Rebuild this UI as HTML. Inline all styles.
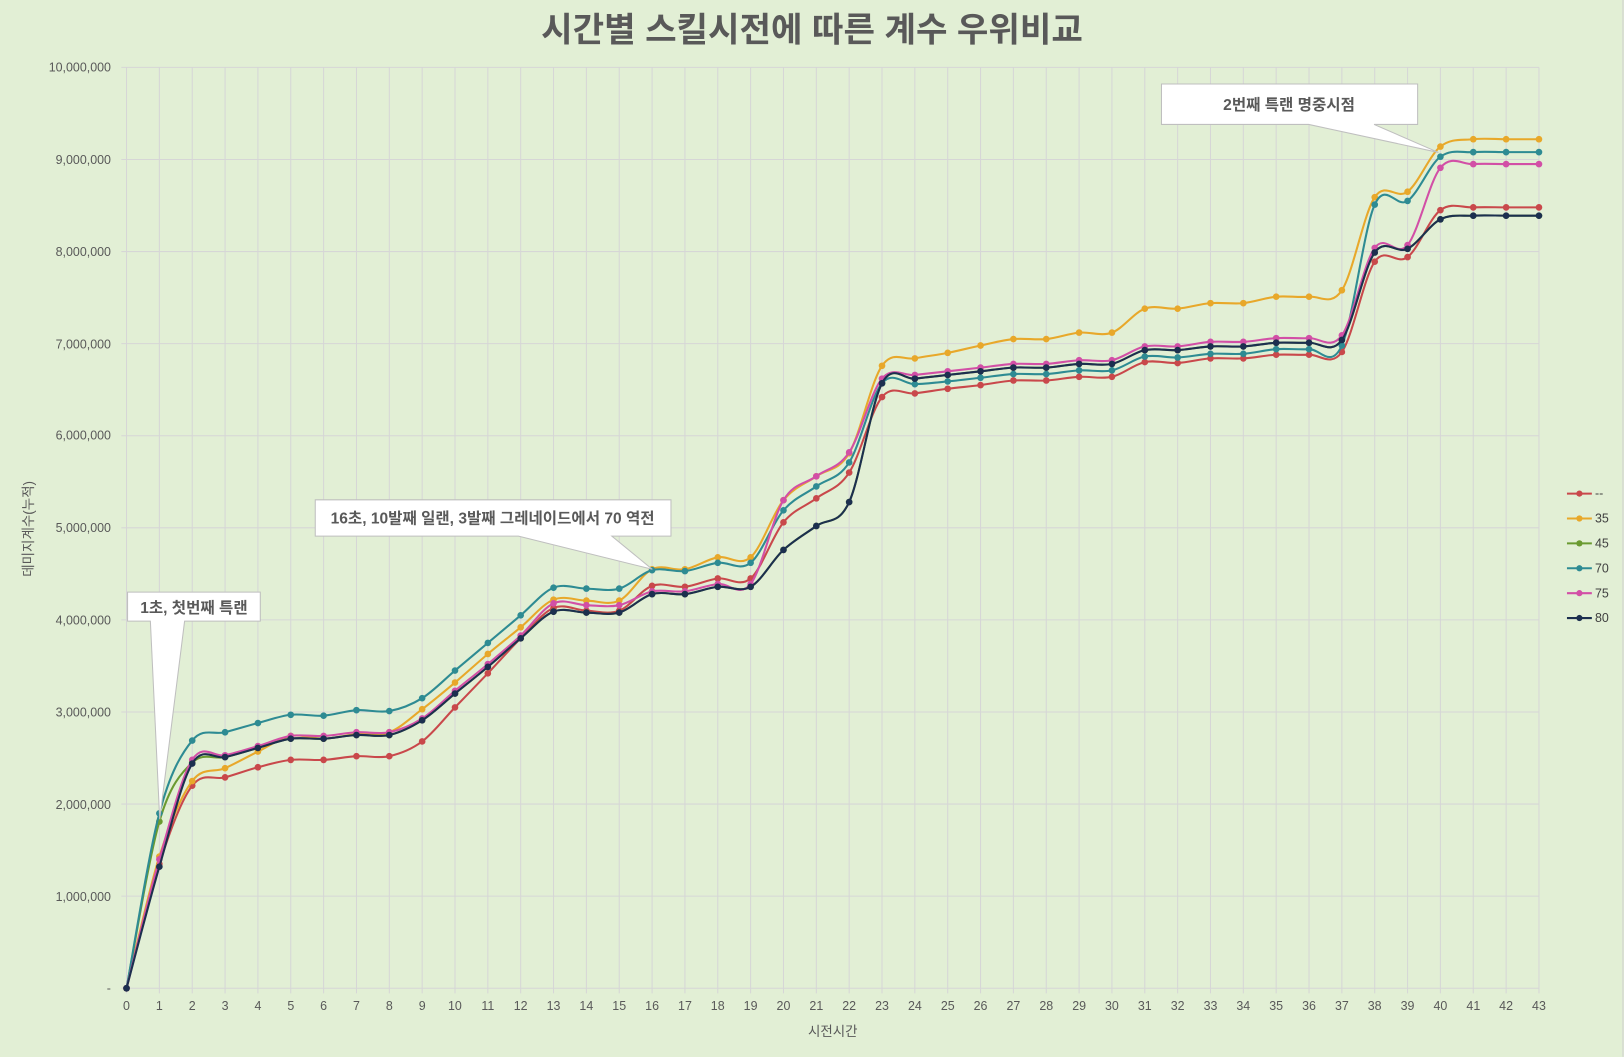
<!DOCTYPE html>
<html><head><meta charset="utf-8"><style>
html,body{margin:0;padding:0;background:#e2efd5;}
svg{display:block;font-family:"Liberation Sans","Noto Sans CJK KR",sans-serif;}
</style></head><body>
<svg id="c" width="1624" height="1057" viewBox="0 0 1566 1019.3" preserveAspectRatio="none" xmlns="http://www.w3.org/2000/svg">
<rect x="0" y="0" width="1566" height="1020" fill="#e2efd5"/>
<g id="grid" stroke="#d6d6d6" stroke-width="1"></g>
<text x="783" y="40" text-anchor="middle" font-size="33" font-weight="bold" fill="#595959">시간별 스킬시전에 따른 계수 우위비교</text>
<g font-size="12" fill="#595959" text-anchor="end">
<text x="107" y="69">10,000,000</text><text x="107" y="158">9,000,000</text><text x="107" y="247">8,000,000</text><text x="107" y="336">7,000,000</text><text x="107" y="424">6,000,000</text><text x="107" y="513">5,000,000</text><text x="107" y="602">4,000,000</text><text x="107" y="691">3,000,000</text><text x="107" y="780">2,000,000</text><text x="107" y="869">1,000,000</text><text x="107" y="957">-</text>
</g>
<g font-size="12" fill="#595959" text-anchor="middle">
<text x="122.0" y="974">0</text><text x="153.7" y="974">1</text><text x="185.3" y="974">2</text><text x="217.0" y="974">3</text><text x="248.7" y="974">4</text><text x="280.4" y="974">5</text><text x="312.0" y="974">6</text><text x="343.7" y="974">7</text><text x="375.4" y="974">8</text><text x="407.1" y="974">9</text><text x="438.7" y="974">10</text><text x="470.4" y="974">11</text><text x="502.1" y="974">12</text><text x="533.8" y="974">13</text><text x="565.4" y="974">14</text><text x="597.1" y="974">15</text><text x="628.8" y="974">16</text><text x="660.5" y="974">17</text><text x="692.1" y="974">18</text><text x="723.8" y="974">19</text><text x="755.5" y="974">20</text><text x="787.2" y="974">21</text><text x="818.8" y="974">22</text><text x="850.5" y="974">23</text><text x="882.2" y="974">24</text><text x="913.9" y="974">25</text><text x="945.5" y="974">26</text><text x="977.2" y="974">27</text><text x="1008.9" y="974">28</text><text x="1040.6" y="974">29</text><text x="1072.2" y="974">30</text><text x="1103.9" y="974">31</text><text x="1135.6" y="974">32</text><text x="1167.3" y="974">33</text><text x="1198.9" y="974">34</text><text x="1230.6" y="974">35</text><text x="1262.3" y="974">36</text><text x="1294.0" y="974">37</text><text x="1325.6" y="974">38</text><text x="1357.3" y="974">39</text><text x="1389.0" y="974">40</text><text x="1420.7" y="974">41</text><text x="1452.3" y="974">42</text><text x="1484.0" y="974">43</text>
</g>
<text x="803" y="999" text-anchor="middle" font-size="13" fill="#595959">시전시간</text>
<text transform="translate(32,510) rotate(-90)" text-anchor="middle" font-size="13" fill="#595959">데미지계수(누적)</text>
<g id="series"></g>
<g stroke="#bfbfbf" stroke-width="1" fill="#fff">
<path d="M123,571 H251 V599 H178 L154,790 L145,599 H123 Z"/>
<path d="M304,482 H647 V517 H590 L629,549 L500,517 H304 Z"/>
<path d="M1120,81 H1367 V120 H1325 L1387,147 L1262,120 H1120 Z"/>
</g>
<g font-size="15" font-weight="bold" fill="#595959" text-anchor="middle">
<text x="187" y="591">1초, 첫번째 특랜</text>
<text x="475" y="505">16초, 10발째 일랜, 3발째 그레네이드에서 70 역전</text>
<text x="1243" y="106">2번째 특랜 명중시점</text>
</g>
<g id="legend" font-size="12" fill="#404040">
<text x="1538" y="480">--</text><text x="1538" y="504">35</text><text x="1538" y="528">45</text><text x="1538" y="552">70</text><text x="1538" y="576">75</text><text x="1538" y="600">80</text>
</g>
<line x1="1565" y1="0" x2="1565" y2="1019" stroke="#d0d0d0"/>
</svg>
<script>
var X0=122,DX=(1484-122)/43,Y0=953,DY=88.8;
function px(i){return X0+i*DX} function py(v){return Y0-v*DY}
var g=document.getElementById('grid'),s='';
for(var i=0;i<=43;i++)s+='<line x1="'+px(i)+'" y1="65" x2="'+px(i)+'" y2="958"/>';
for(var k=0;k<=10;k++)s+='<line x1="117" y1="'+py(k)+'" x2="1484" y2="'+py(k)+'"/>';
g.innerHTML=s;
var navyV=[0,1.32,2.44,2.51,2.61,2.71,2.71,2.75,2.75,2.91,3.20,3.49,3.80,4.09,4.08,4.08,4.28,4.28,4.36,4.36,4.76,5.02,5.28,6.57,6.62,6.66,6.70,6.74,6.74,6.78,6.78,6.93,6.93,6.97,6.97,7.01,7.01,7.04,7.99,8.03,8.35,8.39,8.39,8.39];
var grnV=navyV.slice();grnV[1]=1.81;grnV[2]=2.45;
var D={
red:["#c9484b",[0,1.35,2.20,2.29,2.40,2.48,2.48,2.52,2.52,2.68,3.05,3.42,3.80,4.13,4.10,4.10,4.37,4.36,4.45,4.45,5.06,5.32,5.60,6.42,6.46,6.51,6.55,6.60,6.60,6.64,6.64,6.80,6.79,6.84,6.84,6.88,6.88,6.91,7.89,7.94,8.45,8.48,8.48,8.48]],
yel:["#e8a82a",[0,1.43,2.25,2.39,2.57,2.74,2.71,2.76,2.78,3.03,3.32,3.63,3.92,4.22,4.21,4.21,4.55,4.55,4.68,4.68,5.30,5.56,5.81,6.76,6.84,6.90,6.98,7.05,7.05,7.12,7.12,7.38,7.38,7.44,7.44,7.51,7.51,7.58,8.59,8.65,9.14,9.22,9.22,9.22]],
grn:["#6a9a30",grnV],
teal:["#2e8b93",[0,1.90,2.69,2.78,2.88,2.97,2.96,3.02,3.01,3.15,3.45,3.75,4.05,4.35,4.34,4.34,4.54,4.53,4.62,4.62,5.19,5.45,5.71,6.57,6.56,6.59,6.63,6.67,6.67,6.71,6.71,6.86,6.85,6.89,6.89,6.94,6.94,6.98,8.51,8.55,9.03,9.08,9.08,9.08]],
pink:["#d24fa6",[0,1.40,2.48,2.53,2.63,2.74,2.74,2.78,2.78,2.93,3.23,3.52,3.83,4.18,4.16,4.16,4.31,4.31,4.39,4.39,5.30,5.56,5.82,6.62,6.66,6.70,6.74,6.78,6.78,6.82,6.82,6.97,6.97,7.02,7.02,7.06,7.06,7.09,8.04,8.07,8.91,8.95,8.95,8.95]],
navy:["#1c2f4f",navyV]};
var order=["red","yel","grn","teal","pink","navy"],out='',leg='';
order.forEach(function(k,j){var c=D[k][0],v=D[k][1],P=v.map(function(a,i){return[px(i),py(a)]});
var d='M'+P[0][0]+','+P[0][1];
for(var i=0;i<P.length-1;i++){var p0=P[i>0?i-1:i],p1=P[i],p2=P[i+1],p3=P[i+2<P.length?i+2:i+1];
var t=1/6;d+=' C'+(p1[0]+(p2[0]-p0[0])*t)+','+(p1[1]+(p2[1]-p0[1])*t)+' '+(p2[0]-(p3[0]-p1[0])*t)+','+(p2[1]-(p3[1]-p1[1])*t)+' '+p2[0]+','+p2[1];}
out+='<path d="'+d+'" fill="none" stroke="'+c+'" stroke-width="2"/>';
P.forEach(function(p){out+='<circle cx="'+p[0]+'" cy="'+p[1]+'" r="3.2" fill="'+c+'"/>'});
var ly=476+j*24;leg+='<line x1="1511" y1="'+ly+'" x2="1535" y2="'+ly+'" stroke="'+c+'" stroke-width="2"/><circle cx="1523" cy="'+ly+'" r="3" fill="'+c+'"/>';});
document.getElementById('series').innerHTML=out;
document.getElementById('legend').insertAdjacentHTML('beforeend',leg);
</script>
</body></html>
